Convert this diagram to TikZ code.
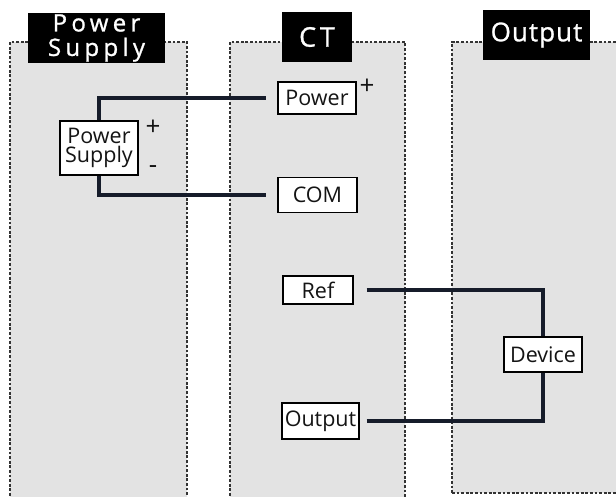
\documentclass[tikz,border=0pt]{standalone}
\usepackage{fontspec}
\setmainfont{Open Sans}
\definecolor{panelgray}{HTML}{E3E3E3}
\definecolor{wirecol}{HTML}{161C2A}
\definecolor{inktext}{HTML}{141414}
\begin{document}
\begin{tikzpicture}[x=1pt,y=-1pt,
  panel/.style={fill=panelgray},
  pborder/.style={draw=black!80, line width=1.3pt, dash pattern=on 2.8pt off 1.8pt},
  titlebox/.style={fill=black, text=white, inner sep=0pt, align=center},
  box/.style={draw=black, line width=1.4pt, fill=white, inner sep=0pt, align=center,
    font=\fontsize{21.5}{19.5}\selectfont, text=inktext},
  wire/.style={draw=wirecol, line width=3.2pt},
  sign/.style={font=\fontsize{26}{26}\selectfont, text=inktext, inner sep=0pt}
]
\useasboundingbox (0,0) rectangle (616,497);
\fill[white] (0,0) rectangle (616,497);

% panels
\fill[panel] (10,42) rectangle (187,505);
\draw[pborder] (10,505) -- (10,42) -- (187,42) -- (187,505);
\fill[panel] (230,42) rectangle (405,505);
\draw[pborder] (230,505) -- (230,42) -- (405,42) -- (405,505);
\fill[panel] (452,42) rectangle (630,493);
\draw[pborder] (452,493) -- (452,42) -- (630,42);
\draw[pborder] (452,493) -- (630,493);

% titles
\node[titlebox, minimum width=137pt, minimum height=50pt,
  font=\fontsize{24}{24.5}\selectfont\addfontfeature{LetterSpace=18,FakeBold=1}] (tps) at (96.5,38) {Power\\Supply};
\node[titlebox, minimum width=70pt, minimum height=50pt,
  font=\fontsize{27}{27}\selectfont\addfontfeature{LetterSpace=14,FakeBold=1}] (tct) at (317,37) {CT};
\node[titlebox, minimum width=107pt, minimum height=50pt,
  font=\fontsize{26}{26}\selectfont\addfontfeature{LetterSpace=4,FakeBold=1}] (tout) at (536.5,35) {Output};

% component boxes
\node[box, minimum width=78pt, minimum height=54pt] (ps) at (99,148) {Power\\Supply};
\node[box, minimum width=78pt, minimum height=32pt] (ctpower) at (317,98) {Power};
\node[box, minimum width=79pt, minimum height=35pt] (com) at (317.5,195) {COM};
\node[box, minimum width=70pt, minimum height=28pt] (ref) at (318,290) {Ref};
\node[box, minimum width=77pt, minimum height=36pt] (ctout) at (320.5,421) {Output};
\node[box, minimum width=78pt, minimum height=35pt] (device) at (543,354.5) {Device};

% signs
\node[sign] (psplus) at (153,128) {+};
\node[sign] (psminus) at (153,170) {-};
\node[sign] (ctplus) at (367,87) {+};

% wires
\draw[wire, shorten >=11pt] (ps.north) |- (ctpower.west);
\draw[wire, shorten >=11pt] (ps.south) |- (com.west);
\draw[wire, shorten <=13pt] (ref.east) -| (device.north);
\draw[wire, shorten <=7pt] (ctout.east) -| (device.south);
\end{tikzpicture}
\end{document}
